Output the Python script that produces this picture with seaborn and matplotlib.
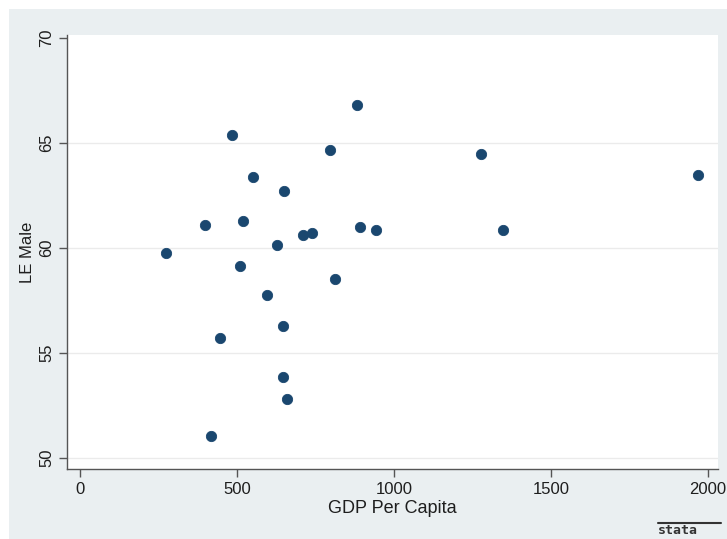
import matplotlib
matplotlib.use("Agg")
import matplotlib.pyplot as plt
import seaborn as sns
import pandas as pd
from matplotlib.patches import Rectangle
from matplotlib.lines import Line2D

# GDP per capita and male life expectancy by country
gdp_per_capita = [274, 398, 446, 416, 486, 520, 510, 552, 596, 628,
                  649, 648, 648, 658, 711, 738, 798, 812, 884, 892,
                  943, 1277, 1347, 1968]
le_male = [59.76, 61.08, 55.71, 51.06, 65.40, 61.27, 59.14, 63.37, 57.76, 60.14,
           62.71, 56.29, 53.84, 52.81, 60.62, 60.73, 64.67, 58.52, 66.82, 60.98,
           60.85, 64.48, 60.86, 63.48]

x_ticks = [0, 500, 1000, 1500, 2000]
y_ticks = [50, 55, 60, 65, 70]

df = pd.DataFrame({"GDP Per Capita": gdp_per_capita, "LE Male": le_male})

sns.set_style("white")
plt.rcParams["font.family"] = ["Liberation Sans", "DejaVu Sans"]

W, H = 727, 539
fig = plt.figure(figsize=(W / 100, H / 100), dpi=100, facecolor="white")

# light bluish-gray graph region behind the plot
fig.add_artist(Rectangle((9 / W, 0), 1 - 9 / W, 1 - 9 / H,
                         transform=fig.transFigure, facecolor="#EAEFF1",
                         edgecolor="none", zorder=-5))

ax = fig.add_axes([67 / W, 1 - 469 / H, (718 - 67) / W, (469 - 35) / H])
ax.set_zorder(2)
ax.set_facecolor("white")

sns.scatterplot(data=df, x="GDP Per Capita", y="LE Male", ax=ax,
                color="#1A476F", s=55, edgecolor="#1A476F", linewidth=0.6,
                zorder=3)

ax.set_xlim(-41, 2032)
ax.set_ylim(49.48, 70.14)
ax.set_xticks(x_ticks)
ax.set_yticks(y_ticks)
ax.set_xticklabels([str(v) for v in x_ticks], fontsize=12, color="#1E1E1E")
ax.set_yticklabels([str(v) for v in y_ticks], fontsize=12, color="#1E1E1E",
                   rotation=90, va="center")

for gy in [50, 55, 60, 65]:
    ax.axhline(gy, color="#EBEBEB", linewidth=1.0, zorder=1)

for side in ["top", "right"]:
    ax.spines[side].set_visible(False)
for side in ["left", "bottom"]:
    ax.spines[side].set_color("#555555")
    ax.spines[side].set_linewidth(1.0)

ax.tick_params(axis="both", which="major", direction="out", length=6,
               width=1.0, color="#555555", pad=3, bottom=True, left=True)

ax.set_xlabel("GDP Per Capita", fontsize=13, color="#1E1E1E")
ax.xaxis.set_label_coords(0.5, -0.072)
ax.set_ylabel("LE Male", fontsize=12, color="#1E1E1E", labelpad=3)

# stata wordmark, bottom right
fig.add_artist(Line2D([658 / W, 721 / W], [1 - 523 / H, 1 - 523 / H],
                      transform=fig.transFigure, color="#333333", linewidth=1.5))
fig.text(658 / W, 1 - 531 / H, "stata", fontsize=9.5, color="#333333",
         family="DejaVu Sans Mono", fontweight="bold", va="center", ha="left")

fig.savefig("out.png", dpi=100, facecolor=fig.get_facecolor())
